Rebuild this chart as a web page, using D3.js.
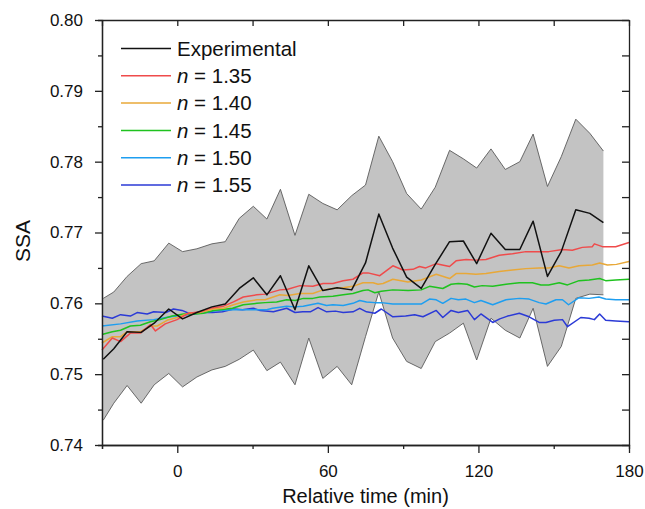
<!DOCTYPE html>
<html>
<head>
<meta charset="utf-8">
<script src="https://cdn.jsdelivr.net/npm/d3@7"></script>
<style>
  body { margin: 0; background: #fff; }
  text { font-family: "Liberation Sans", Arial, sans-serif; }
</style>
</head>
<body>
<div class="mainbody"></div>
<script>
// experimental data: time (min), mean SSA and the band limits
let expTime  = [-29.5, -25.3, -20, -14.4, -9.2, -3.4, 2.1, 7.8, 13.8, 19.1, 24.7, 30.3, 35.7, 41.1, 46.9, 52.4, 58, 63.7, 69.5, 75,
                80.3, 85.8, 91.4, 97.2, 102.8, 108.5, 114, 119.3, 125, 130.7, 136.5, 141.8, 147.5, 153, 158.8, 164.4, 169.8];
let expMean  = [0.7521, 0.7536, 0.7560, 0.7559, 0.7572, 0.7592, 0.7578, 0.7587, 0.7595, 0.7599, 0.7621, 0.7636, 0.7612, 0.7639, 0.7591, 0.7653, 0.7618, 0.7622, 0.7619, 0.7657,
                0.7726, 0.7678, 0.7637, 0.7621, 0.7655, 0.7687, 0.7688, 0.7656, 0.7699, 0.7676, 0.7676, 0.7716, 0.7638, 0.7673, 0.7732, 0.7727, 0.7714];
let expUpper = [0.7607, 0.7616, 0.7638, 0.7656, 0.7660, 0.7685, 0.7673, 0.7677, 0.7684, 0.7687, 0.7720, 0.7737, 0.7719, 0.7761, 0.7696, 0.7754, 0.7741, 0.7732, 0.7752, 0.7767,
                0.7836, 0.7800, 0.7755, 0.7733, 0.7764, 0.7816, 0.7804, 0.7791, 0.7818, 0.7789, 0.7800, 0.7839, 0.7765, 0.7807, 0.7860, 0.7840, 0.7815];
let expLower = [0.7435, 0.7459, 0.7484, 0.7459, 0.7485, 0.7501, 0.7482, 0.7496, 0.7506, 0.7511, 0.7521, 0.7534, 0.7505, 0.7517, 0.7485, 0.7551, 0.7494, 0.7511, 0.7485, 0.7553,
                0.7616, 0.7551, 0.7518, 0.7508, 0.7546, 0.7558, 0.7572, 0.7520, 0.7579, 0.7562, 0.7551, 0.7593, 0.7511, 0.7539, 0.7607, 0.7613, 0.7612];

// model curves, [time, SSA]
let n135 = [[-30,0.7534],[-25.9,0.7551],[-22.6,0.7546],[-18.7,0.7558],[-14.7,0.7558],[-10.7,0.7570],[-8.7,0.7561],[-4.8,0.7571],[-0.1,0.7577],[4.5,0.7586],
            [9.1,0.7588],[13.1,0.7593],[18.4,0.7596],[22.4,0.7602],[26.3,0.7609],[31.7,0.7612],[35,0.7613],[40.9,0.7619],[44,0.7620],[48.9,0.7625],
            [54,0.7624],[58.1,0.7628],[62,0.7628],[66.1,0.7632],[70,0.7634],[74,0.7643],[76,0.7643],[80.7,0.7639],[85.9,0.7653],[89.9,0.7647],
            [93.9,0.7648],[96.5,0.7652],[99,0.7650],[103.2,0.7656],[108.5,0.7652],[111.1,0.7660],[115.1,0.7662],[119,0.7661],[123,0.7662],[128.3,0.7668],
            [133.6,0.7670],[138.9,0.7673],[144.2,0.7673],[148,0.7673],[153.5,0.7676],[157.4,0.7675],[161.4,0.7679],[165.4,0.7680],[166.2,0.7684],[169.4,0.7680],
            [174.7,0.7680],[180,0.7686]];
let n140 = [[-30,0.7544],[-25.9,0.7553],[-22.6,0.7553],[-20,0.7560],[-14.7,0.7560],[-10.7,0.7568],[-8,0.7568],[-4.1,0.7576],[-0.1,0.7580],[4.5,0.7586],
            [9.1,0.7587],[14.4,0.7592],[18.4,0.7593],[22.4,0.7598],[26.3,0.7602],[31.7,0.7605],[35,0.7605],[40.9,0.7612],[44,0.7611],[48.9,0.7614],
            [54,0.7614],[58.1,0.7619],[62.1,0.7621],[66,0.7622],[70,0.7624],[74,0.7629],[78,0.7629],[80,0.7627],[82,0.7628],[85.9,0.7634],
            [91.9,0.7630],[97.2,0.7633],[103.2,0.7641],[108.5,0.7635],[111.1,0.7642],[115,0.7642],[119,0.7641],[123,0.7642],[128.3,0.7645],[133.6,0.7647],
            [138.9,0.7649],[144.2,0.7650],[148,0.7650],[152.2,0.7653],[156.1,0.7650],[160.1,0.7653],[165.4,0.7654],[168.3,0.7657],[171.4,0.7654],[175,0.7655],
            [180,0.7659]];
let n145 = [[-30,0.7556],[-25.9,0.7560],[-22.6,0.7562],[-18.7,0.7568],[-14.7,0.7569],[-10.7,0.7574],[-6.8,0.7577],[-2.1,0.7582],[2.5,0.7585],[7,0.7585],
            [10.4,0.7586],[14.4,0.7590],[19.7,0.7592],[22,0.7593],[26.3,0.7598],[31.7,0.7600],[35,0.7601],[39.6,0.7602],[43.6,0.7605],[47,0.7604],
            [50.2,0.7607],[54,0.7607],[56.8,0.7609],[62,0.7610],[66.1,0.7612],[70,0.7614],[74,0.7618],[76,0.7619],[78.7,0.7615],[81.3,0.7617],
            [85.9,0.7619],[92,0.7618],[97.2,0.7619],[100.5,0.7624],[105.8,0.7621],[109.1,0.7627],[112,0.7628],[115.5,0.7627],[118.4,0.7623],[121.5,0.7625],
            [125.7,0.7624],[131,0.7627],[136.3,0.7629],[141.5,0.7629],[144.9,0.7626],[148,0.7626],[152.2,0.7629],[155.5,0.7626],[160.1,0.7632],[164.1,0.7633],
            [168.3,0.7635],[170.7,0.7632],[174.7,0.7633],[180,0.7634]];
let n150 = [[-30,0.7568],[-22.6,0.7571],[-16,0.7575],[-9.4,0.7577],[-2.8,0.7581],[2.5,0.7583],[9.1,0.7586],[15.8,0.7590],[22.4,0.7591],[29,0.7591],
            [35.6,0.7591],[38,0.7593],[43.6,0.7596],[46.9,0.7595],[50.2,0.7596],[56.1,0.7600],[59.5,0.7597],[62,0.7598],[66.1,0.7597],[70,0.7600],
            [72.7,0.7604],[75.4,0.7602],[78.7,0.7601],[81.3,0.7601],[85.9,0.7599],[91,0.7599],[97.2,0.7599],[100.5,0.7606],[103.2,0.7605],[105.8,0.7600],
            [109.1,0.7607],[112,0.7605],[115,0.7606],[118.4,0.7601],[121,0.7604],[125.7,0.7598],[131,0.7605],[136.3,0.7607],[140.2,0.7606],[144.2,0.7601],
            [146.9,0.7599],[150.9,0.7605],[153.5,0.7605],[155.9,0.7598],[160.1,0.7608],[164.1,0.7607],[168,0.7609],[170.7,0.7606],[174.7,0.7605],[180,0.7605]];
let n155 = [[-30,0.7582],[-25.9,0.7579],[-22.6,0.7584],[-18.7,0.7582],[-16,0.7587],[-12,0.7585],[-9.4,0.7588],[-4.5,0.7587],[-1.5,0.7592],[1.9,0.7590],
            [5.2,0.7585],[9,0.7587],[14,0.7587],[18,0.7588],[22.4,0.7592],[26,0.7591],[30.3,0.7593],[33,0.7590],[38.3,0.7588],[43.6,0.7593],
            [46.9,0.7587],[50,0.7588],[53,0.7588],[56.1,0.7594],[59.5,0.7588],[63,0.7589],[66.1,0.7587],[70,0.7588],[72.7,0.7593],[75.4,0.7588],
            [78.7,0.7586],[81.3,0.7592],[85.9,0.7581],[91,0.7582],[94.6,0.7584],[97.9,0.7581],[103.2,0.7590],[105.8,0.7580],[109.1,0.7590],[112,0.7587],
            [115.7,0.7590],[118.4,0.7577],[121,0.7585],[125.7,0.7573],[128.5,0.7578],[131.6,0.7582],[136.3,0.7586],[140.2,0.7581],[144.2,0.7573],[146.9,0.7573],
            [150.2,0.7576],[153.5,0.7577],[155.5,0.7567],[160.8,0.7580],[164.1,0.7579],[166.2,0.7577],[168.3,0.7585],[170.7,0.7576],[174.7,0.7575],[180,0.7574]];

let seriesNames  = ["Experimental", "1.35", "1.40", "1.45", "1.50", "1.55"];
let seriesColors = ["#111111", "#ef4b4b", "#e8a838", "#1fc21f", "#1e9ef0", "#2b3ad6"];
let xMajor = [0, 60, 120, 180], xMinor = [-30, 30, 90, 150];
let yMajor = [0.74, 0.75, 0.76, 0.77, 0.78, 0.79, 0.80];
let yMinor = [0.745, 0.755, 0.765, 0.775, 0.785, 0.795];

let w = 645, h = 509;
let pLeft = 102, pRight = 629, pTop = 20, pBottom = 445;

let svg = d3.select(".mainbody").append("svg")
            .attr("width", w).attr("height", h);

let x = d3.scaleLinear().domain([-30, 180]).range([pLeft, pRight]);
let y = d3.scaleLinear().domain([0.74, 0.80]).range([pBottom, pTop]);

// grey band
let band = expTime.map((t, i) => ({t: t, lo: expLower[i], hi: expUpper[i]}));
svg.append("path")
   .datum(band)
   .attr("fill", "#c3c3c3")
   .attr("d", d3.area().x(d => x(d.t)).y0(d => y(d.lo)).y1(d => y(d.hi)));

let edge = d3.line().x(d => x(d[0])).y(d => y(d[1]));
[expUpper, expLower].forEach(arr => {
  svg.append("path")
     .datum(expTime.map((t, i) => [t, arr[i]]))
     .attr("fill", "none").attr("stroke", "#5a5a5a").attr("stroke-width", 0.9)
     .attr("d", edge);
});

// lines, models first and experimental on top
let allSeries = [expTime.map((t, i) => [t, expMean[i]]), n135, n140, n145, n150, n155];
for (let i = 5; i >= 0; i--) {
  svg.append("path")
     .datum(allSeries[i])
     .attr("fill", "none")
     .attr("stroke", seriesColors[i])
     .attr("stroke-width", 1.5)
     .attr("stroke-linejoin", "round")
     .attr("d", edge);
}

// axes
function styleAxis(g) {
  g.selectAll("path, line").attr("stroke", "#222").attr("stroke-width", 1.3);
  g.selectAll("text").attr("fill", "#111").attr("font-size", 17)
   .attr("font-family", "Liberation Sans, Arial, sans-serif");
}

svg.append("g").attr("transform", `translate(0,${pBottom})`)
   .call(d3.axisBottom(x).tickValues(xMinor).tickSize(4).tickFormat(""))
   .call(styleAxis);
svg.append("g").attr("transform", `translate(0,${pBottom})`)
   .call(d3.axisBottom(x).tickValues(xMajor).tickSize(8).tickSizeOuter(0).tickPadding(12))
   .call(styleAxis);

svg.append("g").attr("transform", `translate(${pLeft},0)`)
   .call(d3.axisLeft(y).tickValues(yMinor).tickSize(4).tickFormat(""))
   .call(styleAxis);
svg.append("g").attr("transform", `translate(${pLeft},0)`)
   .call(d3.axisLeft(y).tickValues(yMajor).tickSize(7).tickSizeOuter(0).tickPadding(12).tickFormat(d3.format(".2f")))
   .call(styleAxis);

// top and right: inward ticks, no labels
svg.append("g").attr("transform", `translate(0,${pTop})`)
   .call(d3.axisTop(x).tickValues(xMajor.concat(xMinor)).tickSize(-6).tickSizeOuter(0).tickFormat(""))
   .call(styleAxis);
svg.append("g").attr("transform", `translate(${pRight},0)`)
   .call(d3.axisRight(y).tickValues(yMajor.concat(yMinor)).tickSize(-7).tickSizeOuter(0).tickFormat(""))
   .call(styleAxis);

// axis titles
svg.append("text")
   .attr("x", (pLeft + pRight) / 2).attr("y", 503)
   .attr("text-anchor", "middle").attr("font-size", 20).attr("fill", "#111")
   .text("Relative time (min)");
svg.append("text")
   .attr("transform", "translate(30,241) rotate(-90)")
   .attr("text-anchor", "middle").attr("font-size", 21).attr("fill", "#111")
   .text("SSA");

// legend
let legend = svg.append("g").selectAll("g")
                .data(seriesNames).enter().append("g")
                .attr("transform", (d, i) => `translate(121,${48.5 + i * 27.3})`);
legend.append("line")
      .attr("x1", 0).attr("x2", 50)
      .attr("stroke", (d, i) => seriesColors[i]).attr("stroke-width", 1.5);
let lt = legend.append("text")
               .attr("x", 56).attr("dy", "0.36em")
               .attr("font-size", 20.5).attr("fill", "#111");
lt.filter((d, i) => i == 0).text(d => d);
lt.filter((d, i) => i > 0).each(function(d) {
  let t = d3.select(this);
  t.append("tspan").attr("font-style", "italic").text("n");
  t.append("tspan").text(" = " + d);
});
</script>
</body>
</html>
